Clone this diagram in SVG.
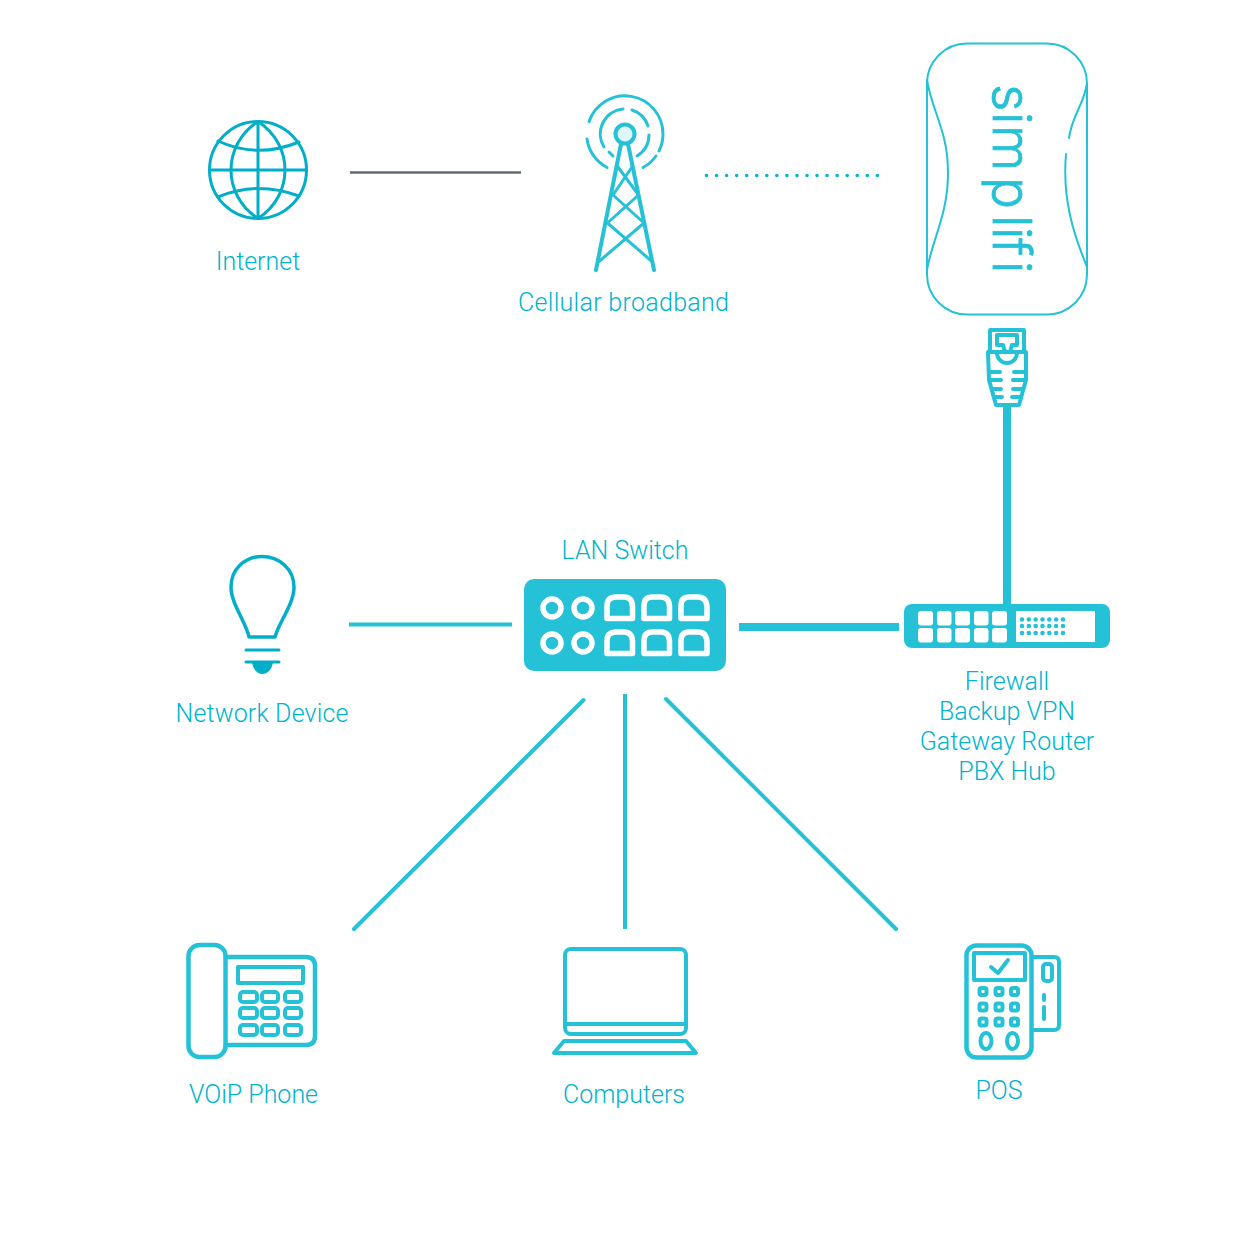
<svg xmlns="http://www.w3.org/2000/svg" width="1251" height="1250" viewBox="0 0 1251 1250">
<style>
.l{font-family:Roboto,"Liberation Sans",sans-serif;font-weight:300;font-size:25px;fill:#00b3cc;text-anchor:middle}
.s{fill:none;stroke:#25c1d6;stroke-width:4;stroke-linejoin:round;stroke-linecap:round}
.b{fill:none;stroke:#00aec8;stroke-width:3;stroke-linejoin:round;stroke-linecap:round}
.t{fill:none;stroke:#25c1d6;stroke-width:2;stroke-linecap:round}
.w{fill:none;stroke:#fff;stroke-width:5.5;stroke-linejoin:round}
.f{fill:#fff}
.d{fill:#25c1d6}
</style>
<rect width="1251" height="1250" fill="#fff"/>
<g id="connectors">
<line x1="350" y1="172.5" x2="521" y2="172.5" stroke="#5f6b6e" stroke-width="2.5"/>
<line x1="706.5" y1="175.5" x2="878" y2="175.5" stroke="#00b4dc" stroke-width="3.6" stroke-linecap="round" stroke-dasharray="0 10.05"/>
<line x1="1007" y1="405" x2="1007" y2="606" stroke="#25c1d6" stroke-width="8"/>
<line x1="739" y1="627" x2="899" y2="627" stroke="#25c1d6" stroke-width="8"/>
<line x1="349" y1="624.5" x2="512" y2="624.5" stroke="#25c1d6" stroke-width="4"/>
<line x1="625" y1="694" x2="625" y2="929" stroke="#25c1d6" stroke-width="4"/>
<line x1="583.500" y1="700" x2="354" y2="929" stroke="#25c1d6" stroke-width="4" stroke-linecap="round"/>
<line x1="666" y1="699" x2="896" y2="929" stroke="#25c1d6" stroke-width="4" stroke-linecap="round"/>
</g>
<g id="internet">
<circle class="b" cx="258" cy="170" r="48.500"/>
<path class="b" d="M258 121.500V218.500M209.500 170H306.500M258 121.500C222 145 222 195 258 218.500M258 121.500C294 145 294 195 258 218.500M218 141C244 153 272 153 299 142M218 197C244 186 272 186 299 196"/>
<text class="l" x="258" y="270">Internet</text>
</g>
<g id="cellular">
<circle cx="625" cy="134" r="9.5" fill="#dff5f9" stroke="#25c1d6" stroke-width="4"/>
<path class="s" style="stroke-width:3" d="M589 121.700A38 38 0 0 1 663 134A38 38 0 0 1 659 151M656 156A38 38 0 0 1 643 167.500M587 139A38 38 0 0 0 607 167.500M623 109A25 25 0 0 0 604 147M609 152L613 156M632 110A25 25 0 0 1 648 126M649 135A25 25 0 0 1 637 156"/>
<path class="s" d="M621 144L596 270M628 144L654 270"/>
<path class="s" style="stroke-width:3" d="M599 261.500L644 223M652 261.500L607.500 223M607.500 223L638.500 195M644 223L613 195M613 195L632 167M638.500 195L618 167"/>
<text class="l" x="623.500" y="311" textLength="211" lengthAdjust="spacing">Cellular broadband</text>
</g>
<g id="simplifi">
<rect x="927" y="43.500" width="160" height="271" rx="40" class="t"/>
<path class="t" d="M927 80C932 112 948 130 948 173C948 215 932 240 927 270M1087 83C1084 105 1072 115 1069 138M1066 154C1062 200 1074 235 1087 267"/>
<text transform="translate(992.500 83) rotate(90)" x="1 29 42 94 132 144 155 178" y="0" style="font-variant-ligatures:none" font-family="Inter,Lato,sans-serif" font-weight="300" font-size="53" fill="#25c1d6" stroke="#25c1d6" stroke-width="0.800" stroke-linejoin="round">simplifi</text>
</g>
<g id="rj45">
<path class="s" d="M990 352V330H1024V352M997 335V345H1003L1005 352H1010L1012 345H1017V335Z"/>
<path class="s" d="M988 352H1026V380L1019 405H996L989 380ZM997 353A10 10 0 0 0 1017 353M990 372H1000M1014 372H1025M990 380H1001M1013 380H1025M993 389H1001M1013 389H1022M995 397H1002M1012 397H1020"/>
</g>
<g id="switch">
<rect x="524" y="579" width="202" height="92" rx="10" class="d"/>
<circle class="w" cx="552" cy="608" r="9"/><circle class="w" cx="583" cy="608" r="9"/>
<circle class="w" cx="552" cy="643" r="9"/><circle class="w" cx="583" cy="643" r="9"/>
<path class="w" d="M607 618.500V606Q607 597 616 597H624Q632 597 632.500 606V618.500Z"/>
<path class="w" d="M644 618.500V606Q644 597 652 597H661Q669 597 669.500 606V618.500Z"/>
<path class="w" d="M681 618.500V606Q681 597 689 597H698Q706 597 707 606V618.500Z"/>
<path class="w" d="M607 653.500V641Q607 632 616 632H624Q632 632 632.500 641V653.500Z"/>
<path class="w" d="M644 653.500V641Q644 632 652 632H661Q669 632 669.500 641V653.500Z"/>
<path class="w" d="M681 653.500V641Q681 632 689 632H698Q706 632 707 641V653.500Z"/>
<text class="l" x="625" y="559">LAN Switch</text>
</g>
<g id="firewall">
<rect x="904" y="604" width="206" height="44" rx="8" class="d"/>
<rect class="f" x="918" y="611" width="15" height="14.500" rx="3"/><rect class="f" x="937" y="611" width="14.500" height="14.500" rx="3"/><rect class="f" x="955" y="611" width="15" height="14.500" rx="3"/><rect class="f" x="974" y="611" width="14.500" height="14.500" rx="3"/><rect class="f" x="992" y="611" width="15" height="14.500" rx="3"/>
<rect class="f" x="918" y="628" width="15" height="14.500" rx="3"/><rect class="f" x="937" y="628" width="14.500" height="14.500" rx="3"/><rect class="f" x="955" y="628" width="15" height="14.500" rx="3"/><rect class="f" x="974" y="628" width="14.500" height="14.500" rx="3"/><rect class="f" x="992" y="628" width="15" height="14.500" rx="3"/>
<rect class="f" x="1016" y="611" width="79" height="31"/>
<path d="M1022 619.500H1063M1022 626H1063M1022 633H1063" fill="none" stroke="#25c1d6" stroke-width="4.600" stroke-linecap="round" stroke-dasharray="0 6.830"/>
<g class="l"><text x="1007" y="690">Firewall</text><text x="1007" y="720">Backup VPN</text><text x="1007" y="750">Gateway Router</text><text x="1007" y="780">PBX Hub</text></g>
</g>
<g id="network-device">
<path class="b" style="stroke-width:3.500" d="M249 637C246 622 231 604 231 587C231 569 245 556.500 262 556.500C279 556.500 294 569 294 587C294 604 279 622 275 637Z"/>
<path class="b" d="M246 650H279M246 662H279"/>
<path d="M252 662H273C272 670 267 674 262.500 674C258 674 253 670 252 662Z" fill="#00aec8"/>
<text class="l" x="262" y="722" textLength="173" lengthAdjust="spacing">Network Device</text>
</g>
<g id="voip-phone">
<rect class="s" style="stroke-width:4.500" x="188.500" y="945" width="37" height="112" rx="11"/>
<path class="s" style="stroke-width:4.500" d="M226 957H306Q315 957 315 966V1036Q315 1045 306 1045H226"/>
<rect class="s" x="238" y="967" width="65" height="16"/>
<g class="s"><rect x="240" y="992" width="17" height="10" rx="3"/><rect x="262" y="992" width="16" height="10" rx="3"/><rect x="285" y="992" width="16" height="10" rx="3"/><rect x="240" y="1008" width="17" height="10" rx="3"/><rect x="262" y="1008" width="16" height="10" rx="3"/><rect x="285" y="1008" width="16" height="10" rx="3"/><rect x="240" y="1025" width="17" height="10" rx="3"/><rect x="262" y="1025" width="16" height="10" rx="3"/><rect x="285" y="1025" width="16" height="10" rx="3"/></g>
<text class="l" x="253.500" y="1103">VOiP Phone</text>
</g>
<g id="computers">
<rect class="s" x="565" y="949" width="121" height="85" rx="6"/>
<path class="s" d="M565 1024H686M564 1041H686L696 1053H554Z"/>
<text class="l" x="624" y="1103">Computers</text>
</g>
<g id="pos">
<rect class="s" style="stroke-width:4.500" x="966.500" y="945.500" width="65" height="112" rx="10"/>
<rect class="s" x="974" y="953" width="51" height="27"/>
<path class="s" d="M991 967L998 973L1008 960"/>
<g class="s"><rect x="979.500" y="988" width="7" height="7" rx="2"/><rect x="995.500" y="988" width="7" height="7" rx="2"/><rect x="1011" y="988" width="7" height="7" rx="2"/><rect x="979.500" y="1003.500" width="7" height="7" rx="2"/><rect x="995.500" y="1003.500" width="7" height="7" rx="2"/><rect x="1011" y="1003.500" width="7" height="7" rx="2"/><rect x="979.500" y="1018.500" width="7" height="7" rx="2"/><rect x="995.500" y="1018.500" width="7" height="7" rx="2"/><rect x="1011" y="1018.500" width="7" height="7" rx="2"/></g>
<ellipse class="s" cx="986" cy="1041" rx="5.500" ry="8"/><ellipse class="s" cx="1012.500" cy="1041" rx="5.500" ry="8"/>
<path class="s" d="M1033 957H1054Q1059 957 1059 962V1025Q1059 1030 1054 1030H1033M1044 995V1000M1044 1007V1019"/>
<rect class="s" x="1043" y="964" width="9" height="17" rx="3"/>
<text class="l" x="999" y="1099">POS</text>
</g>
</svg>
